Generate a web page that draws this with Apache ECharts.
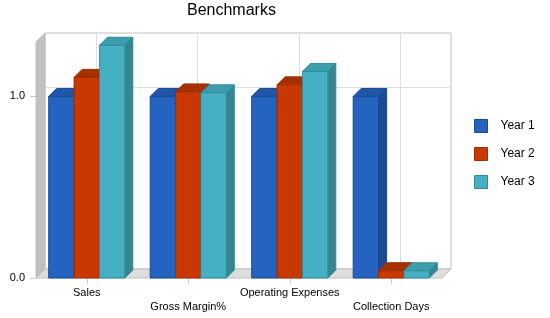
<!DOCTYPE html>
<html><head><meta charset="utf-8">
<script src="https://cdn.jsdelivr.net/npm/echarts@6/dist/echarts.min.js"></script>
<style>html,body{margin:0;padding:0;background:#fff}#c{width:550px;height:318px}</style>
</head><body><div id="c"></div>
<script>
const categories = ['Sales', 'Gross Margin%', 'Operating Expenses', 'Collection Days'];
const seriesNames = ['Year 1', 'Year 2', 'Year 3'];
const year1 = [1.0, 1.0, 1.0, 1.0];
const year2 = [1.105, 1.025, 1.064, 0.04];
const year3 = [1.282, 1.02, 1.138, 0.04];
const yTickLabels = ['0.0', '1.0'];
const yTicks = [0, 1];
const yMax = 1.3;

const palette = [
  {front: '#2563C0', top: '#2155A8', side: '#1D4A90', line: '#1C4A96'},
  {front: '#C83800', top: '#A83000', side: '#8C2800', line: '#9E2D00'},
  {front: '#45B0C3', top: '#3C9EAC', side: '#358690', line: '#318C98'}
];
const seriesValues = [year1, year2, year3];
const WALL = 9, DEPTH = 8;

function renderFrame(params, api) {
  const cs = params.coordSys;
  const x0 = cs.x, y0 = cs.y, x1 = cs.x + cs.width, y1 = cs.y + cs.height;
  const d = WALL;
  const ch = [];
  ch.push({type: 'rect', shape: {x: x0 + d, y: y0 - d, width: cs.width, height: cs.height},
    style: {fill: '#fff', stroke: '#C0C0C0', lineWidth: 1}});
  categories.forEach((c, i) => {
    const px = Math.round(api.coord([i, 0])[0] + d) + 0.5;
    ch.push({type: 'line', shape: {x1: px, y1: y0 - d, x2: px, y2: y1 - d}, style: {stroke: '#DDDDDD', lineWidth: 1}});
  });
  yTicks.slice(1).forEach(v => {
    const py = Math.round(api.coord([0, v])[1] - d) + 0.5;
    ch.push({type: 'line', shape: {x1: x0 + d, y1: py, x2: x1 + d, y2: py}, style: {stroke: '#DDDDDD', lineWidth: 1}});
  });
  ch.push({type: 'polygon', shape: {points: [[x0, y0], [x0 + d, y0 - d], [x0 + d, y1 - d], [x0, y1]]},
    style: {fill: '#C0C0C0', stroke: '#C0C0C0', lineWidth: 1}});
  ch.push({type: 'polygon', shape: {points: [[x0, y1], [x1, y1], [x1 + d, y1 - d], [x0 + d, y1 - d]]},
    style: {fill: '#DDDDDD', stroke: '#C0C0C0', lineWidth: 1}});
  return {type: 'group', children: ch};
}

function makeRender(k) {
  const p = palette[k];
  return function (params, api) {
    const ci = api.value(0);
    const c0 = api.coord([ci, 0]);
    const c1 = api.coord([ci, api.value(1)]);
    const band = api.size([1, 0])[0];
    const w = band * 0.25;
    const xl = c0[0] + (k - 1.5) * w;
    const xr = xl + w;
    const yb = c0[1], yt = c1[1];
    const D = DEPTH;
    return {type: 'group', children: [
      {type: 'polygon', shape: {points: [[xr, yt], [xr + D, yt - D], [xr + D, yb - D], [xr, yb]]},
        style: {fill: p.side, stroke: p.line, lineWidth: 1}},
      {type: 'polygon', shape: {points: [[xl, yt], [xr, yt], [xr + D, yt - D], [xl + D, yt - D]]},
        style: {fill: p.top, stroke: p.line, lineWidth: 1}},
      {type: 'rect', shape: {x: xl, y: yt, width: w, height: yb - yt},
        style: {fill: p.front, stroke: p.line, lineWidth: 1}}
    ]};
  };
}

const series = [{
  type: 'custom', name: 'frame', silent: true, clip: false,
  renderItem: renderFrame, data: [[0, 0]], encode: {x: 0, y: 1}
}];
seriesNames.forEach((n, k) => {
  series.push({
    type: 'custom', name: n, clip: false,
    itemStyle: {color: palette[k].front, borderColor: palette[k].line, borderWidth: 1},
    renderItem: makeRender(k),
    encode: {x: 0, y: 1},
    data: seriesValues[k].map((v, i) => [i, v])
  });
});

const chart = echarts.init(document.getElementById('c'), null, {renderer: 'canvas'});
chart.setOption({
  animation: false,
  backgroundColor: '#fff',
  title: {text: 'Benchmarks', left: 187, top: 3, padding: 0,
    textStyle: {fontFamily: 'Liberation Sans', fontSize: 16, fontWeight: 'normal', color: '#000'}},
  legend: {
    orient: 'vertical', left: 474, top: 119, padding: 0,
    itemWidth: 13, itemHeight: 13, itemGap: 14, icon: 'rect',
    textStyle: {fontFamily: 'Liberation Sans', fontSize: 12, color: '#000', padding: [0, 0, 0, 8]},
    data: seriesNames.map((n, k) => ({name: n, itemStyle: {color: palette[k].front, borderColor: palette[k].line, borderWidth: 1}}))
  },
  grid: {left: 36, top: 42, width: 406, height: 236},
  xAxis: {
    type: 'category', data: categories,
    axisLine: {show: false},
    axisTick: {show: true, alignWithLabel: true, length: 6, lineStyle: {color: '#C8C8C8'}},
    axisLabel: {interval: 0, margin: 8, fontFamily: 'Liberation Sans', fontSize: 11, color: '#000', lineHeight: 14,
      formatter: (v, i) => (i % 2 ? '\n' + v : v)},
    splitLine: {show: false}
  },
  yAxis: {
    type: 'value', min: 0, max: yMax,
    axisLine: {show: false},
    axisTick: {show: true, length: 6, customValues: yTicks, lineStyle: {color: '#C8C8C8'}},
    axisLabel: {margin: 11, fontFamily: 'Liberation Sans', fontSize: 11, color: '#000', customValues: yTicks,
      formatter: v => yTickLabels[yTicks.indexOf(v)]},
    splitLine: {show: false}
  },
  series: series
});
</script></body></html>
